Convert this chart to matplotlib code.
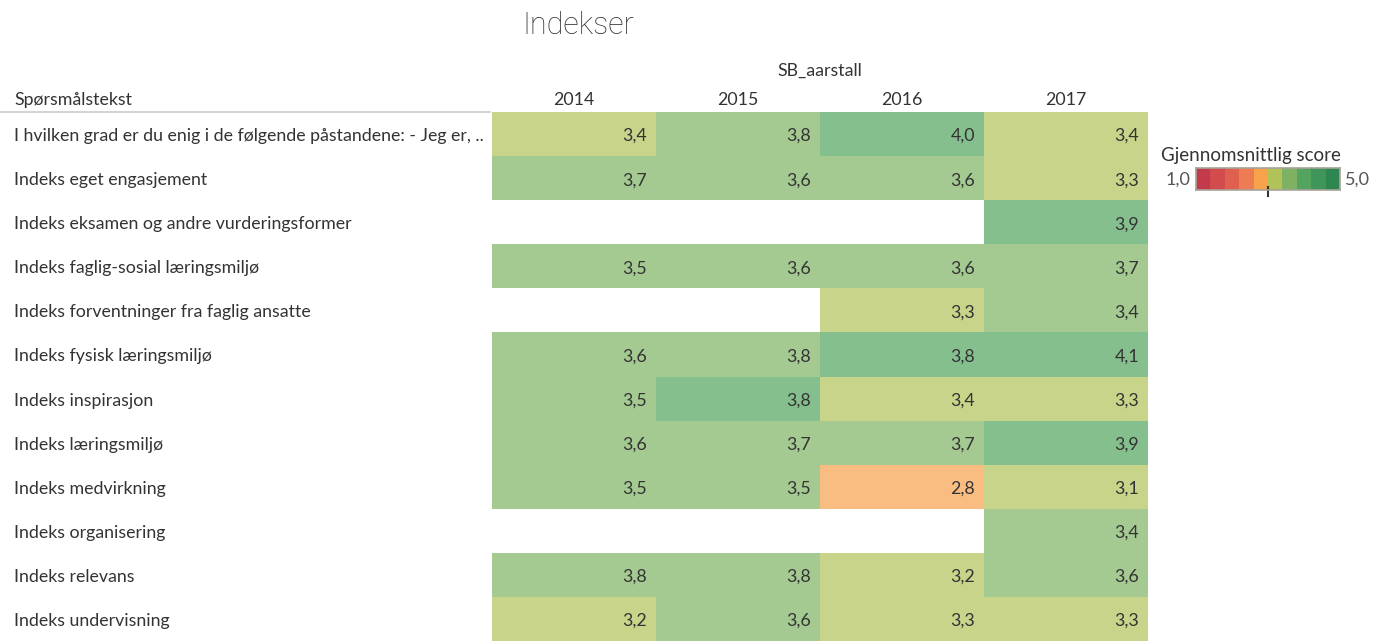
import numpy as np
import matplotlib
matplotlib.use('Agg')
import matplotlib.pyplot as plt
from matplotlib.colors import ListedColormap, BoundaryNorm
from matplotlib.transforms import blended_transform_factory

W, H = 1388, 641

years = ['2014', '2015', '2016', '2017']
questions = [
    'I hvilken grad er du enig i de følgende påstandene: - Jeg er, ..',
    'Indeks eget engasjement',
    'Indeks eksamen og andre vurderingsformer',
    'Indeks faglig-sosial læringsmiljø',
    'Indeks forventninger fra faglig ansatte',
    'Indeks fysisk læringsmiljø',
    'Indeks inspirasjon',
    'Indeks læringsmiljø',
    'Indeks medvirkning',
    'Indeks organisering',
    'Indeks relevans',
    'Indeks undervisning',
]
nan = np.nan
# estimated averages (cell colours show which side of a step they fall)
score_2014 = [3.38, 3.70, nan, 3.52, nan, 3.62, 3.50, 3.60, 3.50, nan, 3.78, 3.20]
score_2015 = [3.78, 3.62, nan, 3.58, nan, 3.78, 3.81, 3.70, 3.48, nan, 3.77, 3.62]
score_2016 = [4.02, 3.58, nan, 3.60, 3.30, 3.82, 3.38, 3.72, 2.82, nan, 3.20, 3.30]
score_2017 = [3.37, 3.30, 3.90, 3.68, 3.42, 4.08, 3.30, 3.88, 3.10, 3.42, 3.60, 3.34]

# stepped red-green diverging palette, 1..5
steps = ['#c23a4b', '#d24c4e', '#e0604f', '#ee7c52', '#f8a24c',
         '#b0c258', '#7eb262', '#52a45e', '#3f955a', '#2e8650']
cmap = ListedColormap(steps)
norm = BoundaryNorm(np.linspace(1, 5, 11), cmap.N)


def px(x, y):
    return x / W, 1 - y / H


def fmt(v):
    return f'{v:.1f}'.replace('.', ',')


plt.rcParams['font.family'] = ['Lato', 'DejaVu Sans']
txt = '#333333'
fs = 12.8

fig = plt.figure(figsize=(W / 100, H / 100), dpi=100)

grid = np.array([score_2014, score_2015, score_2016, score_2017]).T
data = np.ma.masked_invalid(grid)

x0, x1, y0, y1 = 492, 1148, 112, 641
ax = fig.add_axes([x0 / W, 1 - y1 / H, (x1 - x0) / W, (y1 - y0) / H])
ax.pcolormesh(data, cmap=cmap, norm=norm, alpha=0.7, edgecolors='none')
ax.set_xlim(0, len(years))
ax.set_ylim(len(questions), 0)
ax.axis('off')

for i in range(len(questions)):
    for j in range(len(years)):
        v = grid[i, j]
        if np.isnan(v):
            continue
        ax.annotate(fmt(v), (j + 1, i + 0.5), xytext=(-9, -2), textcoords='offset pixels',
                    ha='right', va='center', fontsize=fs, color=txt)

trans = blended_transform_factory(fig.transFigure, ax.transData)
for i, q in enumerate(questions):
    ax.annotate(q, (14 / W, i + 0.5), xycoords=trans, xytext=(0, -2), textcoords='offset pixels',
                ha='left', va='center', fontsize=fs, color=txt, annotation_clip=False)

for j, yr in enumerate(years):
    ax.text(j + 0.5, -0.27, yr, ha='center', va='center', fontsize=fs, color=txt, clip_on=False)

fig.text(*px(14, 100), 'Spørsmålstekst', ha='left', va='center', fontsize=fs, color=txt)
fig.text(*px(820, 71), 'SB_aarstall', ha='center', va='center', fontsize=fs, color=txt)
fig.text(*px(578, 25), 'Indekser', ha='center', va='center', fontsize=22, color='#333333',
         family=['Roboto', 'DejaVu Sans'], fontweight='light')
fig.add_artist(plt.Line2D([0, 490 / W], [1 - 112 / H] * 2, color='#d4d4d4', lw=1.5))

# legend
fig.text(*px(1161, 155), 'Gjennomsnittlig score', ha='left', va='center', fontsize=13.5, color=txt)
lx0, lx1, ly0, ly1 = 1196, 1340, 168, 190
lax = fig.add_axes([lx0 / W, 1 - ly1 / H, (lx1 - lx0) / W, (ly1 - ly0) / H])
ramp = np.linspace(1, 5, 201)
lax.pcolormesh(ramp, [0, 1], ramp[:-1][None, :] + 0.01, cmap=cmap, norm=norm)
lax.set_xlim(1, 5)
lax.set_ylim(0, 1)
lax.set_xticks([])
lax.set_yticks([])
for s in lax.spines.values():
    s.set_color('#a8a39a')
    s.set_linewidth(1.2)
lax.plot([3, 3], [-0.25, 0.15], color='#333333', lw=1.5, clip_on=False)
fig.text(*px(1190, 180), '1,0', ha='right', va='center', fontsize=13, color='#555555')
fig.text(*px(1345, 180), '5,0', ha='left', va='center', fontsize=13, color='#555555')

fig.savefig('out.png', dpi=100)
